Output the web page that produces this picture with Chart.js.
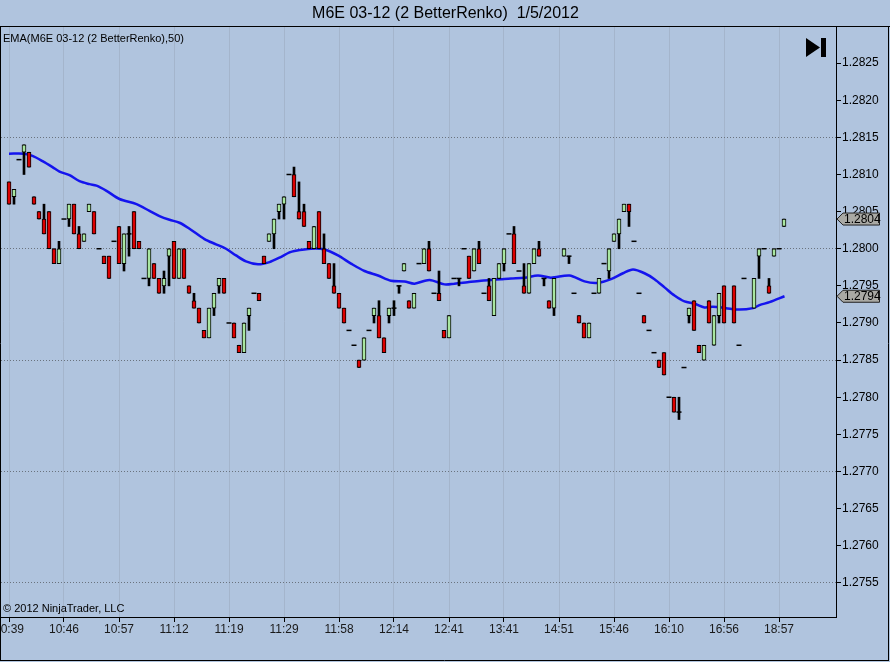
<!DOCTYPE html>
<html>
<head>
<meta charset="utf-8">
<title>M6E 03-12 (2 BetterRenko) 1/5/2012</title>
<script src="https://cdn.jsdelivr.net/npm/chart.js@4.4.1/dist/chart.umd.min.js"></script>
<style>
  html, body { margin: 0; padding: 0; background: #b0c4de; }
  canvas { display: block; }
</style>
</head>
<body>
<canvas id="myChart" width="890" height="662"></canvas>
<script>
// M6E 03-12, 2 tick BetterRenko bars for 1/5/2012
// one entry per bar slot, null = nothing drawn in that slot
var open = [
  1.2809,1.2807,1.2812,1.2813,1.2813,1.2807,1.2805,1.2804,1.2805,1.2800,
  1.2798,1.2804,1.2804,1.2806,1.2802,1.2801,1.2805,1.2805,1.2800,1.2799,
  1.2799,1.2801,1.2803,1.2798,1.2802,1.2805,1.2801,1.2796,1.2796,1.2798,
  1.2796,1.2795,1.2799,1.2801,1.2796,1.2800,1.2795,1.2793,1.2792,1.2789,
  1.2788,1.2792,1.2795,1.2796,1.2790,1.2790,1.2787,1.2786,1.2791,1.2794,
  1.2794,1.2799,1.2801,1.2802,1.2805,1.2806,1.2810,1.2810,1.2805,1.2805,
  1.2801,1.2800,1.2805,1.2800,1.2798,1.2795,1.2794,1.2792,1.2789,1.2787,
  1.2785,1.2785,1.2789,1.2791,1.2791,1.2788,1.2791,1.2792,1.2795,1.2797,
  1.2793,1.2792,1.2798,1.2798,1.2800,1.2794,1.2794,1.2789,1.2788,1.2796,
  1.2796,1.2800,1.2799,1.2797,1.2800,1.2794,1.2795,1.2791,1.2796,1.2798,
  1.2802,1.2802,1.2797,1.2795,1.2794,1.2798,1.2800,1.2796,1.2793,1.2792,
  null,  1.2799,1.2799,1.2794,1.2791,1.2790,1.2788,1.2794,1.2794,1.2798,
  1.2797,1.2801,1.2802,1.2805,1.2806,1.2801,1.2794,1.2791,1.2789,1.2786,
  1.2785,1.2786,1.2780,1.2780,1.2778,1.2784,1.2791,1.2793,1.2787,1.2785,
  1.2793,1.2787,1.2791,1.2795,null,  1.2795,1.2787,1.2796,null,  1.2792,
  1.2799,1.2800,1.2795,1.2799,1.2800,1.2803
];
var high = [
  1.2809,1.2808,1.2812,1.2814,1.2813,1.2807,1.2805,1.2806,1.2805,1.2800,
  1.2801,1.2804,1.2806,1.2806,1.2803,1.2802,1.2806,1.2805,1.2800,1.2799,
  1.2799,1.2801,1.2803,1.2802,1.2803,1.2805,1.2801,1.2796,1.2800,1.2798,
  1.2796,1.2797,1.2800,1.2801,1.2800,1.2800,1.2795,1.2794,1.2792,1.2789,
  1.2792,1.2794,1.2796,1.2796,1.2790,1.2790,1.2787,1.2790,1.2792,1.2794,
  1.2794,1.2799,1.2802,1.2804,1.2806,1.2807,1.2810,1.2811,1.2809,1.2806,
  1.2801,1.2803,1.2805,1.2802,1.2798,1.2798,1.2794,1.2792,1.2789,1.2787,
  1.2785,1.2788,1.2789,1.2792,1.2793,1.2788,1.2792,1.2793,1.2795,1.2798,
  1.2793,1.2794,1.2798,1.2800,1.2801,1.2794,1.2797,1.2789,1.2791,1.2796,
  1.2796,1.2800,1.2799,1.2800,1.2801,1.2794,1.2796,1.2796,1.2798,1.2800,
  1.2802,1.2803,1.2797,1.2798,1.2798,1.2800,1.2801,1.2796,1.2793,1.2796,
  null,  1.2800,1.2799,1.2794,1.2791,1.2790,1.2790,1.2794,1.2796,1.2798,
  1.2800,1.2802,1.2804,1.2806,1.2806,1.2801,1.2794,1.2791,1.2789,1.2786,
  1.2785,1.2786,1.2780,1.2780,1.2780,1.2784,1.2792,1.2793,1.2787,1.2787,
  1.2793,1.2791,1.2794,1.2795,null,  1.2795,1.2787,1.2796,null,  1.2796,
  1.2800,1.2800,1.2796,1.2800,1.2800,1.2804
];
var low = [
  1.2806,1.2806,1.2812,1.2810,1.2811,1.2806,1.2804,1.2802,1.2800,1.2798,
  1.2798,1.2804,1.2803,1.2802,1.2800,1.2801,1.2805,1.2802,1.2800,1.2798,
  1.2796,1.2801,1.2798,1.2797,1.2799,1.2800,1.2800,1.2796,1.2795,1.2796,
  1.2794,1.2794,1.2795,1.2796,1.2796,1.2796,1.2794,1.2792,1.2790,1.2788,
  1.2788,1.2791,1.2794,1.2794,1.2790,1.2788,1.2786,1.2786,1.2789,1.2794,
  1.2793,1.2798,1.2801,1.2800,1.2804,1.2804,1.2810,1.2807,1.2804,1.2803,
  1.2800,1.2800,1.2800,1.2798,1.2796,1.2794,1.2792,1.2790,1.2789,1.2787,
  1.2784,1.2785,1.2789,1.2790,1.2788,1.2786,1.2790,1.2791,1.2794,1.2797,
  1.2792,1.2792,1.2798,1.2798,1.2797,1.2794,1.2793,1.2788,1.2788,1.2796,
  1.2795,1.2800,1.2796,1.2797,1.2798,1.2794,1.2793,1.2791,1.2796,1.2797,
  1.2802,1.2798,1.2797,1.2794,1.2794,1.2798,1.2799,1.2795,1.2792,1.2791,
  null,  1.2799,1.2798,1.2794,1.2790,1.2788,1.2788,1.2794,1.2794,1.2798,
  1.2796,1.2801,1.2800,1.2805,1.2803,1.2801,1.2794,1.2790,1.2789,1.2786,
  1.2784,1.2783,1.2780,1.2778,1.2777,1.2784,1.2790,1.2789,1.2786,1.2785,
  1.2790,1.2787,1.2790,1.2790,null,  1.2790,1.2787,1.2796,null,  1.2792,
  1.2796,1.2800,1.2794,1.2799,1.2800,1.2803
];
var close = [
  1.2806,1.2808,1.2812,1.2814,1.2811,1.2806,1.2804,1.2802,1.2800,1.2798,
  1.2800,1.2804,1.2806,1.2802,1.2800,1.2802,1.2806,1.2802,1.2800,1.2798,
  1.2796,1.2801,1.2798,1.2802,1.2802,1.2800,1.2800,1.2796,1.2800,1.2796,
  1.2794,1.2796,1.2800,1.2796,1.2800,1.2796,1.2794,1.2792,1.2790,1.2788,
  1.2792,1.2794,1.2796,1.2794,1.2790,1.2788,1.2786,1.2790,1.2792,1.2794,
  1.2793,1.2798,1.2802,1.2804,1.2806,1.2807,1.2810,1.2807,1.2804,1.2803,
  1.2800,1.2803,1.2800,1.2798,1.2796,1.2794,1.2792,1.2790,1.2789,1.2787,
  1.2784,1.2788,1.2789,1.2792,1.2788,1.2786,1.2792,1.2792,1.2795,1.2798,
  1.2792,1.2794,1.2798,1.2800,1.2797,1.2794,1.2793,1.2788,1.2791,1.2796,
  1.2796,1.2800,1.2796,1.2800,1.2798,1.2794,1.2793,1.2796,1.2798,1.2800,
  1.2802,1.2798,1.2797,1.2794,1.2798,1.2800,1.2799,1.2796,1.2792,1.2796,
  null,  1.2800,1.2799,1.2794,1.2790,1.2788,1.2790,1.2794,1.2796,1.2798,
  1.2800,1.2802,1.2804,1.2806,1.2805,1.2801,1.2794,1.2790,1.2789,1.2786,
  1.2784,1.2783,1.2780,1.2778,1.2778,1.2784,1.2792,1.2789,1.2786,1.2787,
  1.2790,1.2791,1.2794,1.2790,null,  1.2790,1.2787,1.2796,null,  1.2796,
  1.2800,1.2800,1.2794,1.2800,1.2800,1.2804
];

var emaBar = [0,3,4.7,6.7,8.7,10.1,12.1,14.1,16.1,17.5,19.5,22.1,25.5,28.1,30.1,32.1,34.1,36.1,39.1,41.4,
  43.4,45.4,47.4,49.8,52.1,54.1,56.1,57.1,60.4,63.1,65.8,68.4,71.1,73.8,76.4,79.1,81.1,84.1,87.1,89.1,
  91.7,94.4,96.4,98.4,100.4,103.1,105.8,108.4,112.1,115.1,117.7,120.4,122.8,124.8,127.1,129.1,131.1,133.1,135.1,137.1,
  139.1,140.8,143.4,146.1,148.8,150.1,152.1,155.1];
var emaValue = [1.28128,1.28128,1.28125,1.28118,1.28110,1.28104,1.28099,1.28091,1.28087,1.28085,1.28078,1.28067,1.28060,1.28051,1.28044,1.28039,1.28035,1.28027,1.28013,1.28006,
  1.28000,1.27991,1.27983,1.27979,1.27982,1.27988,1.27995,1.27997,1.28000,1.27999,1.27991,1.27980,1.27970,1.27964,1.27957,1.27956,1.27953,1.27958,1.27952,1.27953,
  1.27955,1.27957,1.27958,1.27959,1.27960,1.27961,1.27964,1.27961,1.27964,1.27956,1.27954,1.27959,1.27967,1.27972,1.27967,1.27959,1.27948,1.27937,1.27929,1.27926,
  1.27921,1.27922,1.27920,1.27918,1.27920,1.27924,1.27928,1.27936];

// time axis: a label every 11 bars
var tickBars = [0,11,22,33,44,55,66,77,88,99,110,121,132,143,154];
var timeLabels = ["10:39","10:46","10:57","11:12","11:19","11:29","11:58","12:14","12:41","13:41","14:51","15:46","16:10","16:56","18:57"];

// price axis
var priceTicks = [1.2755,1.2760,1.2765,1.2770,1.2775,1.2780,1.2785,1.2790,1.2795,1.2800,1.2805,1.2810,1.2815,1.2820,1.2825];
var gridPrices = [1.2755,1.2770,1.2785,1.2800,1.2815];

var upColor = "#a8e6a0";
var downColor = "#dd0000";
var font = "'Liberation Sans', Arial, sans-serif";

var bodies = [], wicks = [], flats = [];
for (var i = 0; i < close.length; i++) {
  if (close[i] == null) continue;
  if (high[i] > low[i]) wicks.push({x: i, y: [low[i], high[i]]});
  if (open[i] === close[i]) flats.push({x: i, y: close[i]});
  else bodies.push({x: i, y: [open[i], close[i]], up: close[i] > open[i]});
}
var ema = emaBar.map(function(b, k) { return {x: b, y: emaValue[k]}; });

function isGrid(v) {
  return gridPrices.some(function(g) { return Math.abs(g - v) < 1e-7; });
}

// frame, legend text, end button and last value markers
var decor = {
  id: "decor",
  afterDraw: function(chart) {
    var ctx = chart.ctx, ys = chart.scales.y;
    ctx.save();
    ctx.strokeStyle = "#000";
    ctx.lineWidth = 1;
    ctx.beginPath();
    ctx.moveTo(0, 26.5); ctx.lineTo(890, 26.5);
    ctx.moveTo(0.5, 26); ctx.lineTo(0.5, 661);
    ctx.moveTo(888.5, 26); ctx.lineTo(888.5, 661);
    ctx.moveTo(0, 660.5); ctx.lineTo(889, 660.5);
    ctx.stroke();

    ctx.fillStyle = "#000";
    ctx.textBaseline = "middle";
    ctx.textAlign = "left";
    ctx.font = "11px " + font;
    ctx.fillText("EMA(M6E 03-12 (2 BetterRenko),50)", 3, 39);
    ctx.fillText("\u00a9 2012 NinjaTrader, LLC", 3, 609);

    // go-to-end button
    ctx.beginPath();
    ctx.moveTo(806, 38); ctx.lineTo(820, 47.5); ctx.lineTo(806, 57); ctx.closePath();
    ctx.fill();
    ctx.fillRect(821, 38, 5, 19);

    function marker(v) {
      var py = ys.getPixelForValue(v);
      ctx.beginPath();
      ctx.moveTo(837, py);
      ctx.lineTo(843, py - 6);
      ctx.lineTo(879.5, py - 6);
      ctx.lineTo(879.5, py + 6);
      ctx.lineTo(843, py + 6);
      ctx.closePath();
      ctx.fillStyle = "#a9a9a4";
      ctx.fill();
      ctx.strokeStyle = "#222";
      ctx.stroke();
      ctx.fillStyle = "#000";
      ctx.font = "12px " + font;
      ctx.fillText(v.toFixed(4), 844, py + 0.5);
    }
    marker(close[close.length - 1]);
    marker(emaValue[emaValue.length - 1]);
    ctx.restore();
  }
};

new Chart("myChart", {
  type: "bar",
  data: {
    datasets: [
      {
        type: "line",
        data: ema,
        borderColor: "#1414ee",
        borderWidth: 2.5,
        pointRadius: 0,
        tension: 0.3,
        fill: false,
        order: 3
      },
      {
        data: wicks,
        backgroundColor: "#000",
        borderWidth: 0,
        barThickness: 2,
        grouped: false,
        order: 2
      },
      {
        data: bodies,
        backgroundColor: function(c) { return c.raw && c.raw.up ? upColor : downColor; },
        borderColor: "#000",
        borderWidth: 1,
        borderSkipped: false,
        barThickness: 4,
        grouped: false,
        order: 1
      },
      {
        type: "scatter",
        data: flats,
        pointStyle: "line",
        pointRadius: 2.5,
        borderColor: "#000",
        borderWidth: 1.5,
        order: 0
      }
    ]
  },
  options: {
    responsive: false,
    devicePixelRatio: 1,
    animation: false,
    events: [],
    layout: { padding: { left: 1 }, autoPadding: false },
    plugins: {
      legend: { display: false },
      tooltip: { enabled: false },
      title: {
        display: true,
        text: "M6E 03-12 (2 BetterRenko)  1/5/2012",
        color: "#000",
        font: { family: font, size: 16, weight: "normal" },
        padding: { top: 4, bottom: 2.8 }
      }
    },
    scales: {
      x: {
        type: "linear",
        min: -1.6,
        max: 165.4,
        offset: false,
        afterFit: function(s) { s.height = 45; s.paddingLeft = 0; s.paddingRight = 0; },
        afterBuildTicks: function(s) { s.ticks = tickBars.map(function(v) { return {value: v}; }); },
        ticks: {
          autoSkip: false,
          maxRotation: 0,
          minRotation: 0,
          padding: 0,
          color: "#1a1a1a",
          font: { family: font, size: 12 },
          callback: function(v) { return timeLabels[tickBars.indexOf(v)]; }
        },
        grid: { color: "#a4b5cc", offset: false, tickColor: "#000", tickLength: 5 },
        border: { color: "#000", width: 1 }
      },
      y: {
        position: "right",
        min: 1.27504,
        max: 1.28300,
        afterFit: function(s) { s.width = 54; s.paddingTop = 0; s.paddingBottom = 0; },
        afterBuildTicks: function(s) { s.ticks = priceTicks.map(function(v) { return {value: v}; }); },
        ticks: {
          padding: 1,
          color: "#000",
          font: { family: font, size: 12 },
          callback: function(v) { return v.toFixed(4); }
        },
        grid: {
          color: function(c) { return c.tick && isGrid(c.tick.value) ? "#6a737e" : "rgba(0,0,0,0)"; },
          tickColor: "#000",
          tickLength: 5
        },
        border: { color: "#000", width: 1, dash: [1, 2] }
      }
    }
  },
  plugins: [decor]
});
</script>
</body>
</html>
